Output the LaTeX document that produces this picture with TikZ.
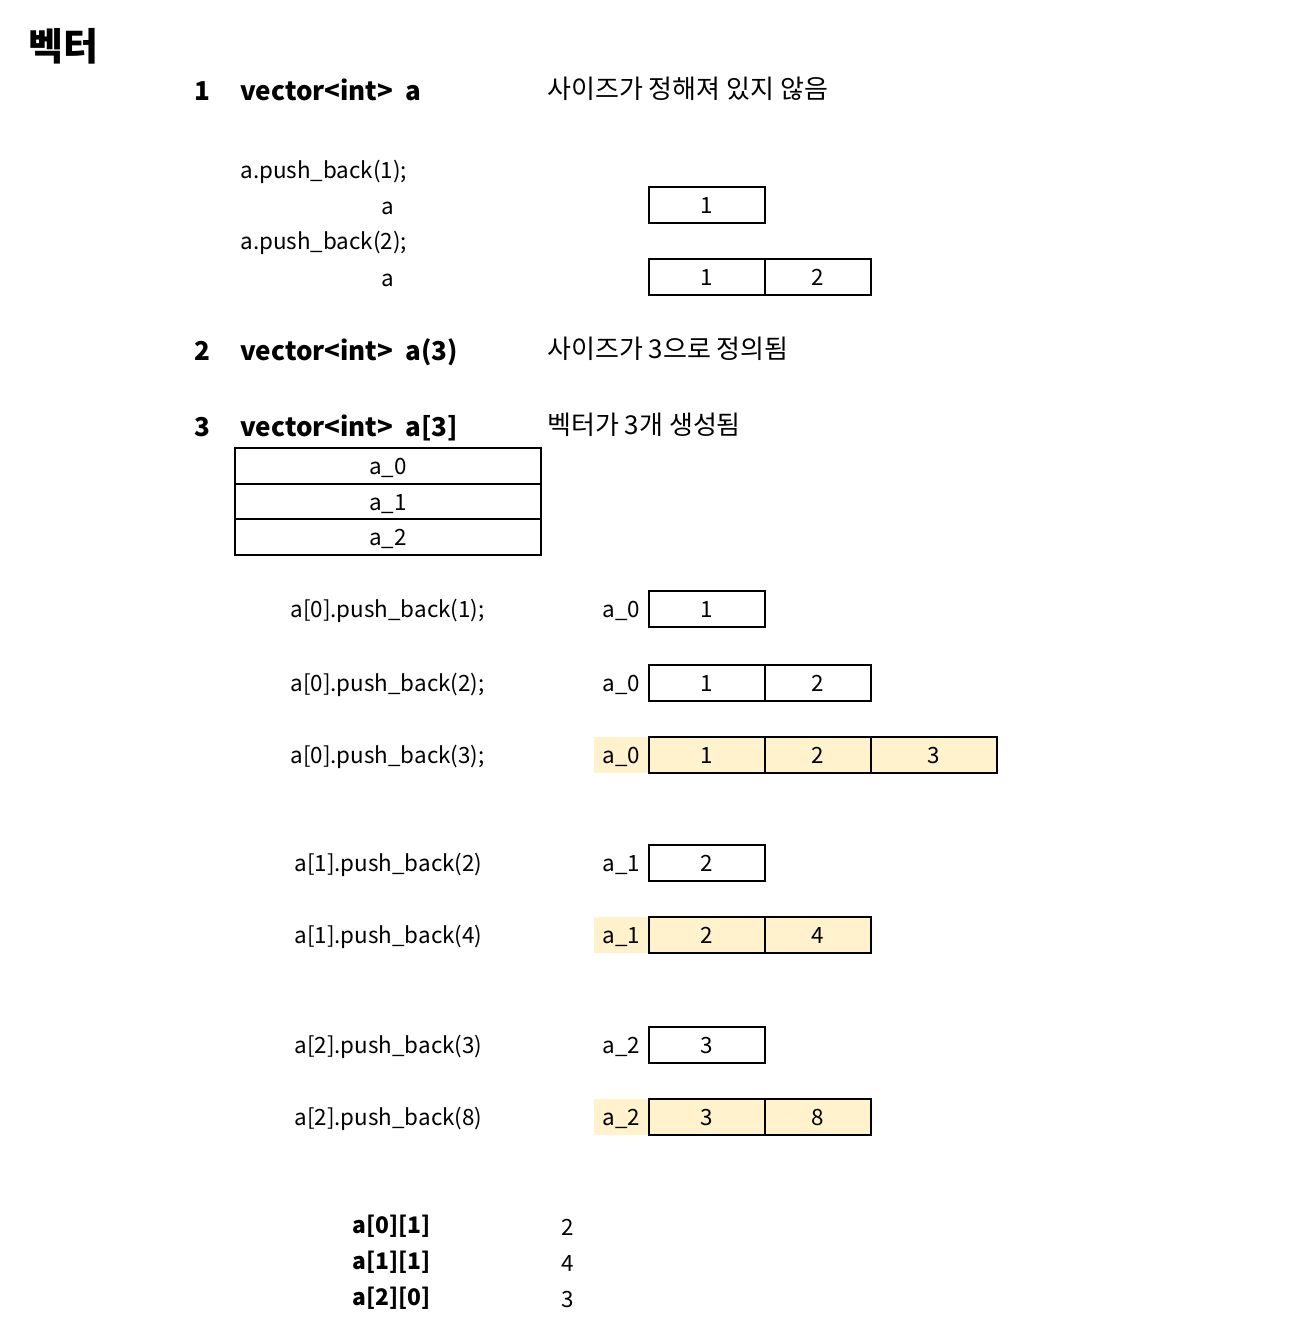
\documentclass[tikz,border=0pt]{standalone}
\usepackage{fontspec}
\setmainfont{Noto Sans CJK KR}
\definecolor{hl}{HTML}{FFF2CC}
\tikzset{
  cell/.style={draw,line width=1pt,minimum height=18pt,inner sep=0pt,text depth=.25ex,text height=1.85ex},
  lab/.style={inner sep=0pt,minimum width=27.5pt,minimum height=18pt,text depth=.25ex,text height=1.85ex},
  txt/.style={anchor=west,inner sep=0pt,text depth=.25ex,text height=1.5ex},
  head/.style={txt,font=\bfseries\fontsize{13pt}{15pt}\selectfont},
  note/.style={txt,font=\fontsize{13pt}{15pt}\selectfont}
}
\begin{document}
\begin{tikzpicture}[x=0.5pt,y=-0.5pt,font=\fontsize{11.2pt}{13pt}\selectfont]
\useasboundingbox (0,0) rectangle (1292,1330);

%%%Title
\node[anchor=west,inner sep=0pt,font=\bfseries\fontsize{19pt}{22pt}\selectfont] (title) at (28,46) {벡터};

%%%Headings 1, 2 and 3
\foreach \n/\y/\c/\d in {1/94/vector<int>\ \ a/사이즈가 정해져 있지 않음,2/354/vector<int>\ \ a(3)/사이즈가 3으로 정의됨,3/430/vector<int>\ \ a[3]/벡터가 3개 생성됨}
{\node[head] (num\n) at (194,\y) {\n};
 \node[head] (decl\n) at (240,\y) {\c};
 \node[note] (note\n) at (547,\y-2) {\d};}

%%%Vector without size
\begin{scope}
%Calls and labels a
\node[txt] (push1) at (240,172) {a.push\_back(1);};
\node (lbl1) at (388,208) {a};
\node[txt] (push2) at (240,243) {a.push\_back(2);};
\node (lbl2) at (388,280) {a};
%Cells
\node[cell,minimum width=58pt] (s1c1) at (707,205) {1};
\foreach \x/\w/\t [count=\i] in {649/116/1,765/106/2} \node[cell,minimum width=\w*0.5pt] (s2c\i) at (\x+\w/2,277) {\t};
\end{scope}

%%%Array of three vectors
\begin{scope}
%Rows a_0, a_1, a_2
\foreach \t [count=\i] in {0,1,2} \node[cell,minimum width=153pt,minimum height=17.83pt] (row\t) at (388,448+35.67*\i-17.83) {a\_\t};
\end{scope}

%%%Pushes into a[0]
\begin{scope}
\node[txt] (p01) at (290,611) {a[0].push\_back(1);};
\node[lab] (l01) at (621.5,609) {a\_0};
\node[cell,minimum width=58pt] (r01c1) at (707,609) {1};
\node[txt] (p02) at (290,685) {a[0].push\_back(2);};
\node[lab] (l02) at (621.5,683) {a\_0};
\foreach \x/\w/\t [count=\i] in {649/116/1,765/106/2} \node[cell,minimum width=\w*0.5pt] (r02c\i) at (\x+\w/2,683) {\t};
\node[txt] (p03) at (290,757) {a[0].push\_back(3);};
\node[lab,fill=hl] (l03) at (621.5,755) {a\_0};
\foreach \x/\w/\t [count=\i] in {649/116/1,765/106/2,871/126/3} \node[cell,fill=hl,minimum width=\w*0.5pt] (r03c\i) at (\x+\w/2,755) {\t};
\end{scope}

%%%Pushes into a[1]
\begin{scope}
\node[txt] (p11) at (294,865) {a[1].push\_back(2)};
\node[lab] (l11) at (621.5,863) {a\_1};
\node[cell,minimum width=58pt] (r11c1) at (707,863) {2};
\node[txt] (p12) at (294,937) {a[1].push\_back(4)};
\node[lab,fill=hl] (l12) at (621.5,935) {a\_1};
\foreach \x/\w/\t [count=\i] in {649/116/2,765/106/4} \node[cell,fill=hl,minimum width=\w*0.5pt] (r12c\i) at (\x+\w/2,935) {\t};
\end{scope}

%%%Pushes into a[2]
\begin{scope}
\node[txt] (p21) at (294,1047) {a[2].push\_back(3)};
\node[lab] (l21) at (621.5,1045) {a\_2};
\node[cell,minimum width=58pt] (r21c1) at (707,1045) {3};
\node[txt] (p22) at (294,1119) {a[2].push\_back(8)};
\node[lab,fill=hl] (l22) at (621.5,1117) {a\_2};
\foreach \x/\w/\t [count=\i] in {649/116/3,765/106/8} \node[cell,fill=hl,minimum width=\w*0.5pt] (r22c\i) at (\x+\w/2,1117) {\t};
\end{scope}

%%%Element access
\foreach \e/\v/\y [count=\i] in {a[0][1]/2/1227,a[1][1]/4/1263,a[2][0]/3/1299}
{\node[txt,font=\bfseries\fontsize{11.4pt}{13pt}\selectfont] (acc\i) at (352,\y) {\e};
 \node (val\i) at (568,\y) {\v};}

\end{tikzpicture}
\end{document}
